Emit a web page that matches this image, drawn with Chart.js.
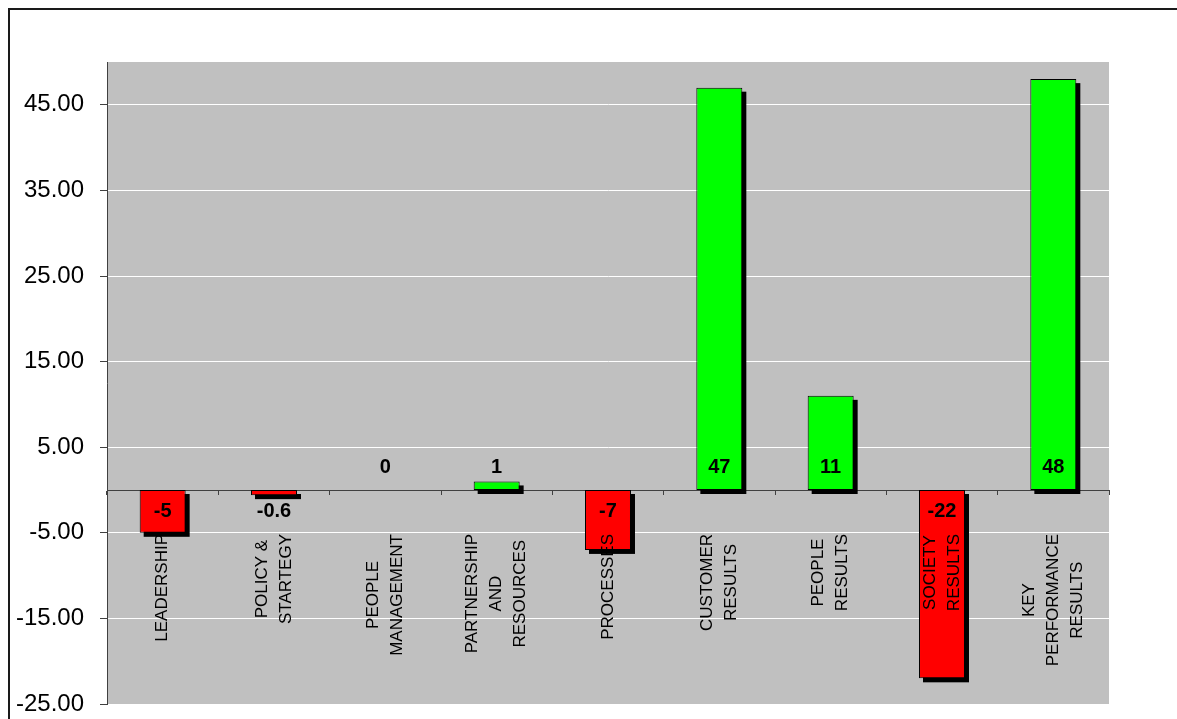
<!DOCTYPE html>
<html>
<head>
<meta charset="utf-8">
<title>Score change by criterion</title>
<script src="https://cdn.jsdelivr.net/npm/chart.js@4.4.0/dist/chart.umd.min.js"></script>
<style>
  html, body { margin: 0; padding: 0; background: #fff; overflow: hidden; }
</style>
</head>
<body>
<canvas id="chart" width="1177" height="719"></canvas>
<script>
// criteria, one entry per bar (each inner array is one label line)
const categories = [
  ["LEADERSHIP"],
  ["POLICY &", "STARTEGY"],
  ["PEOPLE", "MANAGEMENT"],
  ["PARTNERSHIP", "AND", "RESOURCES"],
  ["PROCESSES"],
  ["CUSTOMER", "RESULTS"],
  ["PEOPLE", "RESULTS"],
  ["SOCIETY", "RESULTS"],
  ["KEY", "PERFORMANCE", "RESULTS"]
];
const scores = [-5, -0.6, 0, 1, -7, 47, 11, -22, 48];
const yTicks = [-25, -15, -5, 5, 15, 25, 35, 45];
const yMin = -25, yMax = 50;

const FONT = "'Liberation Sans', Arial, sans-serif";

// white page, grey plot area and the outer frame lines
const frame = {
  id: 'frame',
  beforeDraw(chart) {
    const {ctx, chartArea: a} = chart;
    ctx.save();
    ctx.fillStyle = '#ffffff';
    ctx.fillRect(0, 0, chart.width, chart.height);
    ctx.fillStyle = '#c0c0c0';
    ctx.fillRect(a.left, a.top, a.right - a.left, a.bottom - a.top);
    ctx.strokeStyle = '#1a1a1a';
    ctx.lineWidth = 2;
    ctx.beginPath();
    ctx.moveTo(9, chart.height);
    ctx.lineTo(9, 9);
    ctx.lineTo(chart.width, 9);
    ctx.stroke();
    ctx.restore();
  }
};

// solid black drop shadow behind every bar
const barShadow = {
  id: 'barShadow',
  beforeDatasetsDraw(chart) {
    const {ctx} = chart;
    ctx.save();
    ctx.fillStyle = '#000';
    chart.getDatasetMeta(0).data.forEach(bar => {
      const {x, y, base, width} = bar.getProps(['x', 'y', 'base', 'width'], true);
      const top = Math.min(y, base), h = Math.abs(base - y);
      if (h > 0) ctx.fillRect(x - width / 2 + 4, top + 4, width, h);
    });
    ctx.restore();
  }
};

// rotated category names, hanging below the zero line
const categoryLabels = {
  id: 'categoryLabels',
  afterDatasetsDraw(chart) {
    const {ctx} = chart;
    const xs = chart.scales.x;
    const y0 = chart.scales.y.getPixelForValue(0);
    ctx.save();
    ctx.font = '17px ' + FONT;
    ctx.fillStyle = '#000';
    ctx.textAlign = 'center';
    ctx.textBaseline = 'middle';
    categories.forEach((lines, i) => {
      const cx = xs.getPixelForValue(i);
      const longest = Math.max(...lines.map(l => ctx.measureText(l).width));
      ctx.save();
      ctx.translate(cx, y0 + 44 + longest / 2);
      ctx.rotate(-Math.PI / 2);
      lines.forEach((line, k) => {
        ctx.fillText(line, 0, (k - (lines.length - 1) / 2) * 24);
      });
      ctx.restore();
    });
    ctx.restore();
  }
};

// value labels at the base of each bar
const valueLabels = {
  id: 'valueLabels',
  afterDatasetsDraw(chart) {
    const {ctx} = chart;
    const y0 = chart.scales.y.getPixelForValue(0);
    ctx.save();
    ctx.font = 'bold 20px ' + FONT;
    ctx.fillStyle = '#000';
    ctx.textAlign = 'center';
    ctx.textBaseline = 'middle';
    chart.getDatasetMeta(0).data.forEach((bar, i) => {
      const v = scores[i];
      ctx.fillText(String(v), bar.x, v < 0 ? y0 + 21 : y0 - 23);
    });
    ctx.restore();
  }
};

new Chart(document.getElementById('chart'), {
  type: 'bar',
  data: {
    labels: categories,
    datasets: [{
      data: scores,
      backgroundColor: scores.map(v => v < 0 ? '#ff0000' : '#00ff00'),
      borderColor: '#000000',
      borderWidth: 1,
      borderSkipped: false,
      barPercentage: 0.413,
      categoryPercentage: 1
    }]
  },
  options: {
    responsive: false,
    devicePixelRatio: 1,
    animation: false,
    layout: { padding: { top: 62, right: 68, bottom: 15, left: 0 } },
    plugins: {
      legend: { display: false },
      tooltip: { enabled: false }
    },
    scales: {
      x: {
        type: 'category',
        position: { y: 0 },
        offset: true,
        afterFit: s => {
          s.height = 0;
          s.paddingLeft = s.paddingRight = s.paddingTop = s.paddingBottom = 0;
        },
        grid: {
          offset: true,
          drawOnChartArea: false,
          drawTicks: true,
          tickLength: 4,
          tickColor: '#404040'
        },
        border: { display: true, color: '#404040', width: 1 },
        ticks: { display: false }
      },
      y: {
        min: yMin,
        max: yMax,
        afterBuildTicks: s => { s.ticks = yTicks.map(v => ({ value: v })); },
        afterFit: s => {
          s.width = 107;
          s.paddingTop = s.paddingBottom = 0;
        },
        grid: {
          color: '#ffffff',
          lineWidth: 1,
          tickColor: '#404040',
          tickLength: 7
        },
        border: { display: true, color: '#404040', width: 1 },
        ticks: {
          font: { family: FONT, size: 24 },
          color: '#000',
          padding: 16,
          callback: v => Number(v).toFixed(2)
        }
      }
    }
  },
  plugins: [frame, barShadow, categoryLabels, valueLabels]
});
</script>
</body>
</html>
